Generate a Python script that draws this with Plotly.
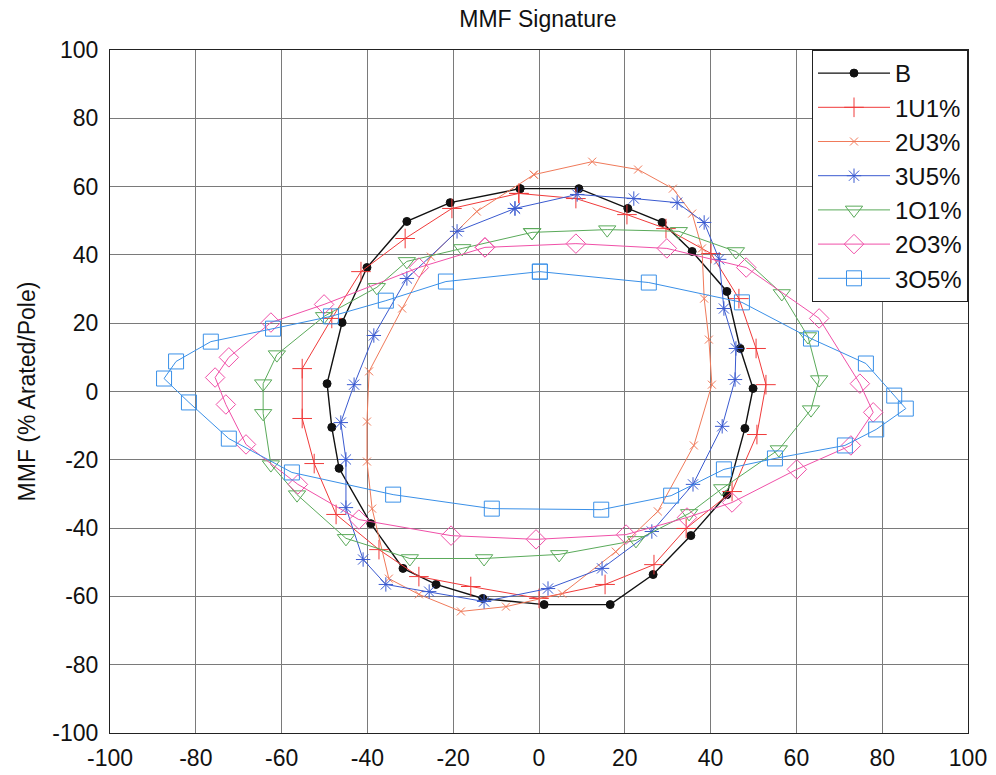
import plotly.graph_objects as go

# MMF signature loci (x, y in % Arated/Pole), each a closed loop
b_x = [-4.4, 9.3, 20.7, 28.7, 35.7, 43.8, 46.9, 49.9, 48.0, 43.8, 35.4, 26.6, 16.6, 1.2,
       -13.1, -24.0, -31.7, -39.2, -46.6, -48.3, -49.4, -45.9, -40.1, -30.8, -20.7]
b_y = [59.4, 59.4, 53.6, 49.5, 41.0, 29.3, 12.6, 0.9, -10.8, -30.2, -42.2, -53.6, -62.4, -62.4,
       -60.6, -56.5, -51.8, -38.7, -22.5, -10.5, 2.3, 20.2, 36.3, 49.8, 55.3]

u1_x = [-4.7, 8.6, 20.5, 29.6, 40.1, 46.6, 50.6, 52.9, 50.8, 45.0, 34.3, 26.8, 15.4, 0.0,
        -15.9, -28.0, -37.3, -47.3, -52.4, -55.2, -55.2, -48.3, -41.5, -31.2, -20.3]
u1_y = [58.0, 56.5, 51.8, 47.7, 40.4, 27.2, 12.6, 2.0, -12.6, -29.3, -40.1, -50.7, -56.5, -60.6,
        -57.1, -54.2, -46.3, -36.0, -21.1, -7.9, 6.7, 21.4, 35.1, 44.8, 53.6]

u3_x = [-1.2, 12.4, 23.1, 31.2, 35.7, 38.0, 38.5, 39.6, 40.3, 36.1, 27.7, 17.9, 5.4, -7.7,
        -18.2, -28.0, -35.0, -38.9, -40.1, -40.1, -39.6, -31.9, -25.2, -14.5]
u3_y = [63.5, 67.3, 65.0, 59.4, 52.1, 41.9, 27.2, 15.2, 2.0, -15.8, -35.1, -46.9, -59.2, -63.0,
        -64.4, -59.4, -54.8, -34.3, -20.5, -8.8, 5.9, 24.3, 39.5, 52.7]

u5_x = [-5.6, 8.9, 22.1, 32.2, 38.5, 42.0, 43.1, 45.9, 45.7, 42.7, 35.9, 26.3, 14.7, 2.1,
        -12.8, -25.6, -35.7, -41.0, -45.0, -45.0, -46.2, -43.1, -38.5, -30.8, -19.1]
u5_y = [53.6, 57.7, 56.5, 55.3, 49.5, 38.7, 24.3, 12.6, 3.5, -10.2, -27.2, -41.0, -51.8, -57.7,
        -61.5, -58.6, -56.5, -49.2, -34.0, -19.9, -9.1, 2.0, 16.4, 33.1, 46.9]

o1_x = [-1.6, 15.9, 32.6, 45.9, 56.6, 62.7, 65.3, 63.4, 55.9, 42.7, 35.0, 22.6, 4.7, -12.8,
        -30.1, -45.0, -56.4, -62.5, -64.3, -64.3, -61.1, -50.1, -37.8, -30.8, -17.9]
o1_y = [46.6, 47.4, 46.9, 41.0, 28.7, 16.1, 3.5, -5.3, -17.0, -28.4, -35.7, -43.6, -47.7, -48.9,
        -48.9, -43.0, -30.2, -21.4, -6.4, 2.3, 10.8, 22.0, 30.5, 38.1, 41.9]

o3_x = [-12.6, 8.6, 29.8, 48.3, 65.3, 74.8, 77.9, 72.7, 60.1, 45.0, 34.5, 20.3, -0.7, -20.5,
        -42.0, -56.2, -68.3, -73.0, -75.5, -72.3, -62.5, -50.1, -28.0]
o3_y = [42.2, 43.3, 41.9, 36.3, 21.4, 2.3, -6.1, -15.8, -22.8, -32.5, -36.9, -41.9, -43.3, -42.2,
        -37.5, -27.2, -15.5, -3.8, 4.1, 10.0, 20.2, 25.5, 36.3]

o5_x = [0.2, 25.6, 47.3, 63.4, 76.2, 82.8, 85.5, 78.6, 71.3, 55.0, 43.1, 30.8, 14.5, -11.0,
        -34.0, -57.6, -72.3, -81.6, -87.4, -84.6, -76.5, -62.0, -48.5, -35.7, -21.7]
o5_y = [35.1, 31.9, 26.1, 15.5, 8.2, -1.2, -5.0, -11.1, -15.8, -19.6, -22.8, -30.5, -34.6, -34.3,
        -30.2, -23.7, -13.8, -3.2, 3.8, 8.8, 14.6, 18.4, 22.0, 26.6, 32.2]

# shared tick positions / labels for both axes (plain hyphen minus)
tick_vals = [-100, -80, -60, -40, -20, 0, 20, 40, 60, 80, 100]
tick_text = ["-100", "-80", "-60", "-40", "-20", "0", "20", "40", "60", "80", "100"]

series = [
    ("B", b_x, b_y, "#111111", "circle", 8, 1.4),
    ("1U1%", u1_x, u1_y, "#f03a3a", "cross-thin-open", 14, 1.0),
    ("2U3%", u3_x, u3_y, "#f07a5a", "x-thin-open", 8, 1.0),
    ("3U5%", u5_x, u5_y, "#3a5ad0", "asterisk-open", 12, 1.0),
    ("1O1%", o1_x, o1_y, "#5aaa5a", "triangle-down-open", 15, 1.0),
    ("2O3%", o3_x, o3_y, "#f050a8", "diamond-open", 15, 1.0),
    ("3O5%", o5_x, o5_y, "#3a90e8", "square-open", 15, 1.0),
]

FONT = "Liberation Sans, Arial"

fig = go.Figure()
for name, xs, ys, color, symbol, size, lw in series:
    # close each loop by returning to the first sample
    fig.add_trace(go.Scatter(
        x=xs + xs[:1], y=ys + ys[:1], name=name, mode="lines+markers",
        line=dict(color=color, width=lw),
        marker=dict(symbol=symbol, size=size, color=color,
                    line=dict(color=color, width=1)),
    ))

axis_common = dict(
    range=[-100, 100], tickmode="array", tickvals=tick_vals, ticktext=tick_text,
    showgrid=True, gridcolor="#7a7a7a", gridwidth=1, automargin=False,
    zeroline=False, showline=True, linecolor="#222", linewidth=1, mirror=True,
    ticks="", tickfont=dict(family=FONT, size=23, color="#111"),
)

fig.update_layout(
    width=996, height=775,
    margin=dict(l=110, r=28, t=50, b=42),
    paper_bgcolor="white", plot_bgcolor="white",
    title=dict(text="MMF Signature", x=0.54, xanchor="center", y=0.976, yanchor="middle",
               font=dict(family=FONT, size=23, color="#111")),
    xaxis=dict(axis_common, ticklabelstandoff=4),
    yaxis=dict(axis_common, ticklabelstandoff=6,
               title=dict(text="MMF (% Arated/Pole)", standoff=10,
                          font=dict(family=FONT, size=23, color="#111"))),
    legend=dict(x=1, y=1, xanchor="right", yanchor="top",
                bgcolor="white", bordercolor="#222", borderwidth=1,
                font=dict(family=FONT, size=24, color="#111"),
                itemwidth=72, tracegroupgap=0),
    showlegend=True,
)

fig.write_html("out.html")
